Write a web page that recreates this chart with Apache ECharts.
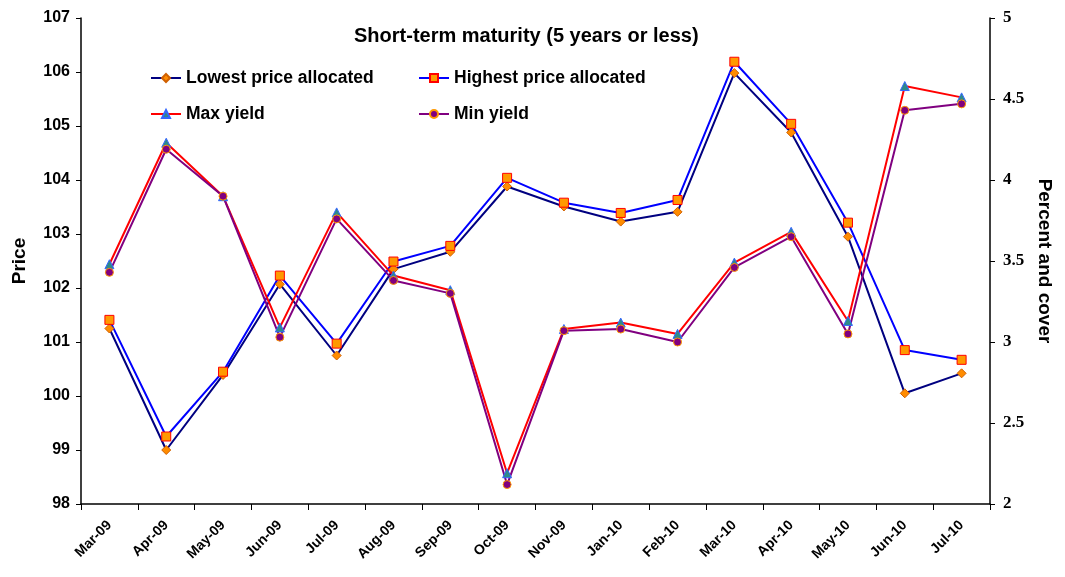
<!DOCTYPE html>
<html><head><meta charset="utf-8">
<script src="https://cdn.jsdelivr.net/npm/echarts@6/dist/echarts.min.js"></script>
<style>html,body{margin:0;padding:0;background:#fff}#c{width:1065px;height:577px}</style>
</head><body><div id="c"></div>
<script>
var categories = ['Mar-09','Apr-09','May-09','Jun-09','Jul-09','Aug-09','Sep-09','Oct-09','Nov-09','Jan-10','Feb-10','Mar-10','Apr-10','May-10','Jun-10','Jul-10'];
var lowestPrice  = [101.25, 99.00, 100.39, 102.07, 100.75, 102.35, 102.67, 103.88, 103.51, 103.23, 103.41, 105.98, 104.88, 102.95, 100.05, 100.42];
var highestPrice = [101.41, 99.25, 100.45, 102.23, 100.97, 102.49, 102.78, 104.04, 103.58, 103.39, 103.63, 106.19, 105.04, 103.21, 100.85, 100.67];
var maxYield = [3.48, 4.23, 3.90, 3.09, 3.80, 3.41, 3.32, 2.19, 3.08, 3.12, 3.05, 3.49, 3.68, 3.13, 4.58, 4.51];
var minYield = [3.43, 4.19, 3.90, 3.03, 3.76, 3.38, 3.30, 2.12, 3.07, 3.08, 3.00, 3.46, 3.65, 3.05, 4.43, 4.47];
var priceTicks = [98, 99, 100, 101, 102, 103, 104, 105, 106, 107];
var rightTicks = [2, 2.5, 3, 3.5, 4, 4.5, 5];

var chart = echarts.init(document.getElementById('c'));
var legendText = {fontFamily:'Arial, Liberation Sans', fontWeight:'bold', fontSize:17.5, color:'#000'};
function lg(name, left, top){
  return {data:[name], left:left, top:top, itemWidth:30, itemHeight:10, itemGap:0, textStyle:legendText, padding:0};
}
chart.setOption({
  animation:false,
  backgroundColor:'#fff',
  title:{text:'Short-term maturity (5 years or less)', left:354, top:26,
    textStyle:{fontFamily:'Arial, Liberation Sans', fontWeight:'bold', fontSize:20, color:'#000'}, padding:0},
  legend:[lg('Lowest price allocated',150,69), lg('Highest price allocated',418,69), lg('Max yield',150,105), lg('Min yield',418,105)],
  grid:{left:81, right:75, top:18, bottom:73, containLabel:false},
  xAxis:{type:'category', data:categories, boundaryGap:true,
    axisLine:{lineStyle:{color:'#000', width:1.5}},
    axisTick:{show:true, length:6, lineStyle:{color:'#000'}},
    axisLabel:{rotate:45, fontFamily:'Arial, Liberation Sans', fontWeight:'bold', fontSize:14, color:'#000', margin:19, interval:0},
    splitLine:{show:false}},
  yAxis:[
    {type:'value', min:priceTicks[0], max:priceTicks[priceTicks.length-1], interval:1, position:'left',
     name:'Price', nameLocation:'middle', nameGap:52, nameRotate:90,
     nameTextStyle:{fontFamily:'Arial, Liberation Sans', fontWeight:'bold', fontSize:19, color:'#000'},
     axisLine:{show:true, lineStyle:{color:'#000', width:1.5}},
     axisTick:{show:true, length:5, lineStyle:{color:'#000'}},
     axisLabel:{fontFamily:'Arial, Liberation Sans', fontWeight:'bold', fontSize:16, color:'#000', margin:11},
     splitLine:{show:false}},
    {type:'value', min:rightTicks[0], max:rightTicks[rightTicks.length-1], interval:0.5, position:'right',
     name:'Percent and cover', nameLocation:'middle', nameGap:44, nameRotate:-90,
     nameTextStyle:{fontFamily:'Arial, Liberation Sans', fontWeight:'bold', fontSize:19, color:'#000'},
     axisLine:{show:true, lineStyle:{color:'#000', width:1.5}},
     axisTick:{show:true, length:5, lineStyle:{color:'#000'}},
     axisLabel:{fontFamily:'Liberation Serif, Times New Roman, serif', fontWeight:'bold', fontSize:17, color:'#000', margin:13,
       formatter:function(v){return String(v);}},
     splitLine:{show:false}}
  ],
  series:[
    {name:'Lowest price allocated', type:'line', yAxisIndex:0, data:lowestPrice,
     lineStyle:{color:'#000080', width:2}, symbol:'diamond', symbolSize:9,
     itemStyle:{color:'#FF8C00', borderColor:'#D06000', borderWidth:1}},
    {name:'Highest price allocated', type:'line', yAxisIndex:0, data:highestPrice,
     lineStyle:{color:'#0000FF', width:2}, symbol:'rect', symbolSize:9,
     itemStyle:{color:'#FF9900', borderColor:'#FF0000', borderWidth:1}},
    {name:'Max yield', type:'line', yAxisIndex:1, data:maxYield,
     lineStyle:{color:'#FF0000', width:2}, symbol:'triangle', symbolSize:9,
     itemStyle:{color:'#2E8A8A', borderColor:'#3366FF', borderWidth:1}},
    {name:'Min yield', type:'line', yAxisIndex:1, data:minYield,
     lineStyle:{color:'#800080', width:2}, symbol:'circle', symbolSize:8,
     itemStyle:{color:'#800080', borderColor:'#FF9900', borderWidth:1}}
  ]
});
</script></body></html>
